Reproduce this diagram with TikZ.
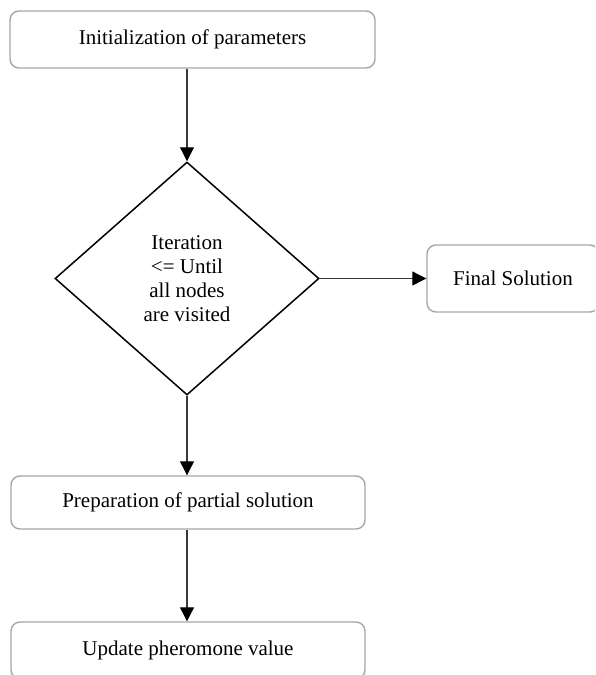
\documentclass[tikz,border=0pt]{standalone}
\usepackage{fontspec}
\setmainfont{Liberation Serif}
\usetikzlibrary{shapes.geometric,arrows.meta}

\definecolor{boxgray}{HTML}{A6A6A6}
\definecolor{linegray}{HTML}{383838}
\tikzset{
  stepbox/.style={draw=boxgray, line width=1.4pt, rounded corners=9pt, align=center},
  decision/.style={diamond, draw=black, line width=1.5pt, align=center, inner sep=0pt},
  flow/.style={->, draw=linegray, line width=1.1pt},
}

\begin{document}
\begin{tikzpicture}[x=1pt, y=-1pt, >={Triangle[length=14pt,width=14pt,color=black]},
    font=\fontsize{21}{24}\selectfont]
  \clip (0,0) rectangle (595,675);

  \node[stepbox, minimum width=365pt, minimum height=57pt] (init) at (192.5,39.5)
    {Initialization of parameters};
  \node[decision, minimum width=264pt, minimum height=233pt] (iter) at (187,278.5)
    {Iteration\\<= Until\\all nodes\\are visited};
  \node[stepbox, minimum width=172pt, minimum height=67pt] (final) at (513,278.5)
    {Final Solution};
  \node[stepbox, minimum width=354pt, minimum height=53pt] (prep) at (188,502.5)
    {Preparation of partial solution};
  \node[stepbox, minimum width=354pt, minimum height=57pt] (update) at (188,650.5)
    {Update pheromone value};

  \draw[flow] (init.south -| iter.north) -- (iter.north);
  \draw[flow] (iter.east) -- (final.west);
  \draw[flow] (iter.south) -- (prep.north -| iter.south);
  \draw[flow] (prep.south -| iter.south) -- (update.north -| iter.south);
\end{tikzpicture}
\end{document}
